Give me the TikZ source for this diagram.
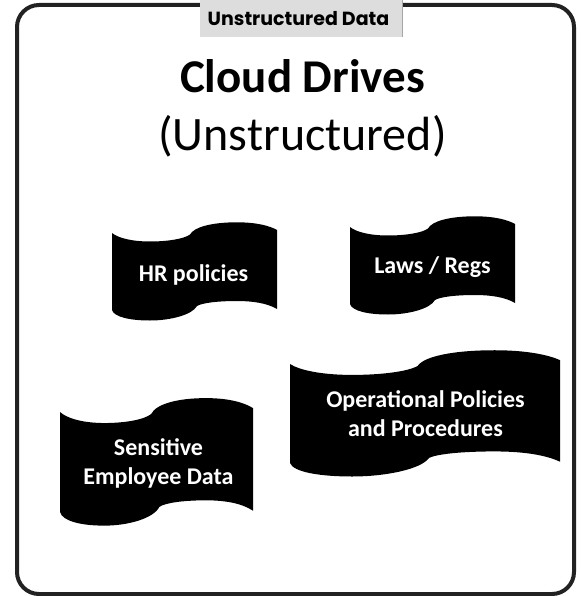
\documentclass[tikz,border=0pt]{standalone}
\usepackage{fontspec}
\setmainfont{Carlito}
\newfontfamily\labelfont{Poppins}
\definecolor{frameink}{HTML}{222222}
\definecolor{tabgray}{HTML}{DDDDDD}
\newcommand{\wavebanner}[4]{%
  \begin{scope}[shift={(#1,#2)},xscale=#3/165,yscale=#4/77]
    \fill[black] (0,0) .. controls (6,5) and (20,8.5) .. (38,8.5)
      .. controls (55,8.5) and (72,6) .. (78,1.5)
      .. controls (82,-6) and (100,-10.7) .. (125,-10.7)
      .. controls (145,-10.7) and (158,-7) .. (165,-3)
      -- (165,76)
      .. controls (155,70) and (140,68) .. (125,68)
      .. controls (105,68) and (90,70) .. (85,73)
      .. controls (80,82) and (58,87.5) .. (38,87.5)
      .. controls (18,87.5) and (2,84) .. (0,77) -- cycle;
  \end{scope}}
\tikzset{
  frame/.style={draw=frameink,line width=4pt,rounded corners=22pt,fill=white},
  tab/.style={fill=tabgray,inner sep=0pt,minimum width=202pt,minimum height=37pt,anchor=north west},
  tabtext/.style={font=\labelfont\fontsize{19}{22}\selectfont\bfseries,text=black},
  bannertext/.style={text=white,align=center,font=\bfseries\fontsize{24}{29.5}\selectfont,inner sep=0pt},
}
\begin{document}
\begin{tikzpicture}[x=1pt,y=-1pt]
\useasboundingbox (0,0) rectangle (580,596);
\draw[frame] (17,5) rectangle (574,594);
\node[tab] (tab) at (200,0) {};
\draw[gray!70,line width=0.7pt] (tab.north east) -- (tab.south east);
\node[tabtext] (tablabel) at (298.5,18.5) {Unstructured Data};
\node[anchor=base,inner sep=0pt,font=\bfseries\fontsize{47}{50}\selectfont,text=black] (title) at (302.5,93) {Cloud Drives};
\node[anchor=base,inner sep=0pt,font=\fontsize{48}{54}\selectfont,text=black] (subtitle) at (302.5,150) {(Unstructured)};
\wavebanner{112}{233}{165}{77}
\wavebanner{350}{227}{165}{77}
\wavebanner{290}{364}{270}{99}
\wavebanner{60}{412}{193}{100}
\node[bannertext,anchor=base] (hr) at (193.5,281) {HR policies};
\node[bannertext,anchor=base] (laws) at (432.5,273) {Laws / Regs};
\node[bannertext] (ops) at (425.5,413.5) {Operational Policies\\and Procedures};
\node[bannertext] (emp) at (158.5,463.5) {Sensitive\\Employee Data};
\end{tikzpicture}
\end{document}
